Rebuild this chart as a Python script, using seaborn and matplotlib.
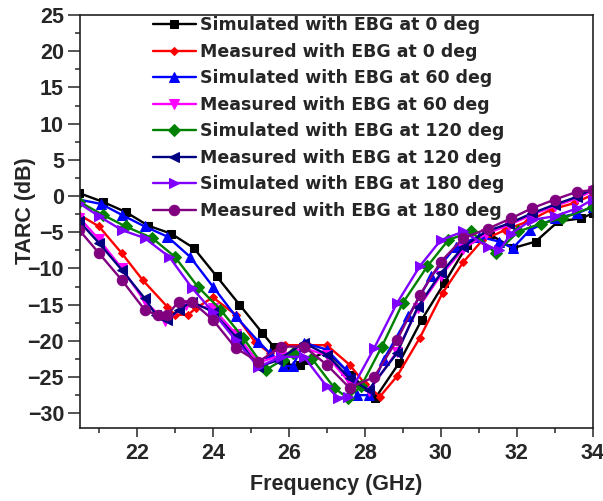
import matplotlib
matplotlib.use("Agg")
import matplotlib.pyplot as plt
import seaborn as sns
import pandas as pd
from matplotlib.ticker import MultipleLocator

# ---- data ----
labels = [
    "Simulated with EBG at 0 deg", "Measured with EBG at 0 deg",
    "Simulated with EBG at 60 deg", "Measured with EBG at 60 deg",
    "Simulated with EBG at 120 deg", "Measured with EBG at 120 deg",
    "Simulated with EBG at 180 deg", "Measured with EBG at 180 deg",
]

sim0_x = [20.48, 21.1, 21.7, 22.3, 22.9, 23.5, 24.1, 24.7, 25.3, 25.6, 25.9, 26.3, 26.5, 27.0, 27.64, 28.28, 28.9, 29.5, 30.1, 30.7, 31.3, 31.9, 32.5, 33.1, 33.7, 34.0]
sim0_y = [0.4, -0.8, -2.2, -4.1, -5.2, -7.2, -11.1, -15.0, -18.9, -20.8, -23.3, -23.3, -22.6, -21.5, -24.7, -27.9, -23.1, -17.1, -12.0, -6.8, -5.3, -7.2, -6.3, -3.5, -3.1, -2.4]

mea0_x = [20.48, 21.0, 21.6, 22.15, 22.8, 23.0, 23.35, 23.55, 24.0, 24.6, 25.1, 25.5, 25.9, 26.5, 27.0, 27.6, 28.0, 28.4, 28.85, 29.45, 30.05, 30.6, 31.1, 31.7, 32.3, 32.9, 33.5, 34.0]
mea0_y = [-2.6, -4.2, -7.9, -11.6, -15.3, -16.4, -16.4, -15.5, -14.0, -16.4, -20.1, -21.7, -20.6, -20.6, -20.6, -23.3, -25.9, -27.7, -24.9, -19.6, -13.4, -9.1, -6.1, -4.7, -3.5, -1.9, -1.0, 0.15]

sim60_x = [20.48, 21.06, 21.6, 22.2, 22.8, 23.4, 24.0, 24.6, 25.2, 25.5, 25.85, 26.1, 26.4, 27.0, 27.5, 27.8, 28.1, 28.5, 29.15, 29.75, 30.4, 31.0, 31.55, 31.9, 32.35, 33.0, 33.6, 34.0]
sim60_y = [-0.5, -1.1, -2.6, -4.2, -5.6, -8.4, -12.5, -16.6, -20.1, -21.7, -23.5, -23.5, -20.3, -21.2, -24.0, -27.5, -27.5, -22.6, -16.6, -11.1, -7.0, -5.6, -6.3, -7.2, -4.7, -3.1, -2.4, -1.5]

mea60_x = [20.48, 21.0, 21.6, 22.2, 22.75, 23.3, 24.0, 24.6, 25.2, 25.8, 26.4, 27.0, 27.6, 28.1, 28.85, 29.4, 30.0, 30.6, 31.2, 31.8, 32.4, 33.0, 33.6, 34.0]
mea60_y = [-3.0, -6.0, -10.0, -14.5, -17.3, -15.0, -15.5, -19.0, -23.0, -22.0, -21.0, -22.0, -25.8, -27.0, -21.5, -15.5, -11.0, -7.3, -5.2, -4.0, -2.6, -1.4, -0.3, 0.7]

sim120_x = [20.48, 21.1, 21.7, 22.4, 23.0, 23.6, 24.2, 24.8, 25.4, 25.85, 26.1, 26.6, 27.2, 27.55, 27.9, 28.45, 29.0, 29.65, 30.2, 30.8, 31.45, 32.05, 32.65, 33.2, 34.0]
sim120_y = [-0.8, -2.6, -4.2, -5.8, -8.4, -12.5, -15.7, -19.6, -24.0, -22.6, -21.7, -22.4, -26.5, -27.9, -26.3, -20.8, -14.8, -9.7, -6.1, -4.9, -7.9, -4.9, -3.8, -3.1, -1.5]

mea120_x = [20.48, 21.0, 21.6, 22.2, 22.5, 22.8, 23.1, 23.45, 24.0, 24.6, 25.2, 25.7, 26.4, 27.0, 27.6, 28.1, 28.85, 29.4, 30.0, 30.6, 31.2, 31.8, 32.4, 33.0, 33.6, 34.0]
mea120_y = [-3.5, -6.5, -10.2, -14.1, -16.4, -17.1, -15.7, -14.6, -16.0, -19.4, -23.6, -22.7, -20.3, -21.9, -25.2, -26.8, -21.7, -15.3, -10.7, -7.0, -4.9, -3.8, -2.4, -1.2, -0.1, 1.0]

sim180_x = [20.48, 21.0, 21.6, 22.2, 22.85, 23.45, 24.0, 24.6, 25.2, 25.8, 26.4, 27.0, 27.3, 27.55, 28.25, 28.85, 29.45, 30.0, 30.6, 31.25, 31.55, 31.85, 32.4, 33.0, 33.6, 34.0]
sim180_y = [-1.0, -2.8, -4.7, -5.8, -8.4, -12.7, -16.0, -19.9, -23.6, -22.2, -22.2, -26.3, -27.9, -27.7, -21.0, -14.8, -9.7, -6.1, -4.9, -7.0, -7.5, -5.2, -3.3, -2.8, -1.7, -0.5]

mea180_x = [20.48, 21.0, 21.6, 22.2, 22.55, 22.8, 23.1, 23.45, 24.0, 24.6, 25.2, 25.8, 26.4, 27.0, 27.6, 28.25, 28.85, 29.45, 30.0, 30.6, 31.25, 31.85, 32.4, 33.0, 33.6, 34.0]
mea180_y = [-4.7, -7.9, -11.6, -15.7, -16.5, -16.4, -14.6, -14.6, -17.1, -21.0, -22.9, -20.8, -20.8, -23.3, -26.5, -25.0, -19.9, -13.7, -9.1, -5.8, -4.5, -3.1, -1.7, -0.5, 0.6, 0.8]

series_x = [sim0_x, mea0_x, sim60_x, mea60_x, sim120_x, mea120_x, sim180_x, mea180_x]
series_y = [sim0_y, mea0_y, sim60_y, mea60_y, sim120_y, mea120_y, sim180_y, mea180_y]

x_ticks = [22, 24, 26, 28, 30, 32, 34]
y_ticks = [-30, -25, -20, -15, -10, -5, 0, 5, 10, 15, 20, 25]

# ---- styling ----
colors = ["#000000", "#FF0000", "#0000FF", "#FF00FF", "#008000", "#000080", "#8000FF", "#800080"]
markers = ["s", "D", "^", "v", "D", "<", ">", "o"]
msizes = [6, 4.5, 7, 7, 6, 7, 7, 7.5]

sns.set_style("ticks")
plt.rcParams["font.family"] = ["Liberation Sans", "DejaVu Sans"]

fig = plt.figure(figsize=(6.03, 5.01), dpi=100)
ax = fig.add_axes([80 / 603, 1 - 427.7 / 501, 512.5 / 603, 412.7 / 501])

for i in range(len(labels)):
    df = pd.DataFrame({"f": series_x[i], "tarc": series_y[i]})
    sns.lineplot(data=df, x="f", y="tarc", ax=ax, color=colors[i], marker=markers[i],
                 markersize=msizes[i], markeredgecolor=colors[i], linewidth=1.7,
                 label=labels[i], estimator=None, sort=False)

ax.set_xlim(20.5, 34)
ax.set_ylim(-32, 25)
ax.set_xticks(x_ticks)
ax.set_yticks(y_ticks)
ax.xaxis.set_minor_locator(MultipleLocator(1))
ax.yaxis.set_minor_locator(MultipleLocator(2.5))

ax.tick_params(axis="x", which="major", length=6.5, width=1.1, direction="out", pad=4.5,
               labelsize=15.5, top=False)
ax.tick_params(axis="y", which="major", length=8.5, width=1.1, direction="out", pad=3,
               labelsize=15.5, right=False)
ax.tick_params(which="minor", length=3.6, width=1.1, direction="out", top=False, right=False)
for lab in ax.get_xticklabels() + ax.get_yticklabels():
    lab.set_fontweight("bold")

for side in ["left", "bottom", "top", "right"]:
    ax.spines[side].set_visible(True)
    ax.spines[side].set_linewidth(1.2)
    ax.spines[side].set_color("#222222")

ax.set_xlabel("Frequency (GHz)", fontsize=15.5, fontweight="bold", labelpad=7)
ax.set_ylabel("TARC (dB)", fontsize=15.5, fontweight="bold")
ax.yaxis.set_label_coords(-0.086, 0.527)

leg = ax.legend(loc="upper left", bbox_to_anchor=(0.142, 0.997), frameon=False,
                borderpad=0, borderaxespad=0, handlelength=2.5, handletextpad=0.22,
                labelspacing=0.49, prop={"family": "DejaVu Sans", "weight": "bold", "size": 12.5})

fig.savefig("out.png", dpi=100)
